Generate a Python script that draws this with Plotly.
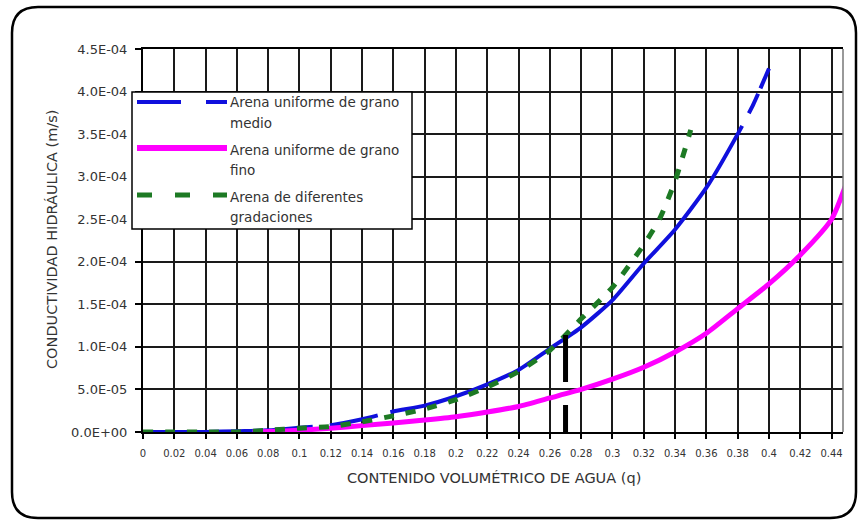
import plotly.graph_objects as go

# ---------------- data ----------------
theta_medio = [0, 0.02, 0.04, 0.06, 0.08, 0.10, 0.12, 0.14, 0.16, 0.18, 0.20,
               0.22, 0.24, 0.26, 0.28, 0.30, 0.32, 0.34, 0.36, 0.38, 0.39, 0.40]
k_medio = [0, 0, 0, 1e-6, 2e-6, 5e-6, 8e-6, 1.5e-5, 2.4e-5, 3.1e-5, 4.2e-5,
           5.6e-5, 7.3e-5, 9.8e-5, 1.23e-4, 1.55e-4, 1.98e-4, 2.38e-4, 2.87e-4,
           3.5e-4, 3.85e-4, 4.27e-4]

theta_fino = [0.07, 0.08, 0.10, 0.12, 0.14, 0.16, 0.18, 0.20, 0.22, 0.24, 0.26,
              0.28, 0.30, 0.32, 0.34, 0.36, 0.38, 0.40, 0.42, 0.44, 0.45]
k_fino = [0, 5e-7, 2e-6, 4.5e-6, 7.5e-6, 1.05e-5, 1.4e-5, 1.8e-5, 2.35e-5, 3.0e-5,
          4.0e-5, 5.0e-5, 6.2e-5, 7.6e-5, 9.4e-5, 1.16e-4, 1.45e-4, 1.74e-4,
          2.08e-4, 2.5e-4, 2.95e-4]

theta_grad = [0, 0.02, 0.04, 0.06, 0.08, 0.10, 0.12, 0.14, 0.16, 0.18, 0.20,
              0.22, 0.24, 0.26, 0.28, 0.30, 0.32, 0.33, 0.34, 0.35]
k_grad = [0, 0, 0, 0, 2e-6, 4.5e-6, 6.5e-6, 1.2e-5, 1.9e-5, 2.7e-5, 3.8e-5,
          5.3e-5, 7.1e-5, 9.6e-5, 1.33e-4, 1.7e-4, 2.2e-4, 2.5e-4, 2.95e-4, 3.55e-4]

ref_theta = [0.27, 0.27]
ref_k = [1.14e-4, 0]

series_names = [
    ["Arena uniforme de grano", "medio"],
    ["Arena uniforme de grano", "fino"],
    ["Arena de diferentes", "gradaciones"],
]

x_tick_vals = [0, 0.02, 0.04, 0.06, 0.08, 0.10, 0.12, 0.14, 0.16, 0.18, 0.20, 0.22,
               0.24, 0.26, 0.28, 0.30, 0.32, 0.34, 0.36, 0.38, 0.40, 0.42, 0.44]
x_tick_text = ["0", "0.02", "0.04", "0.06", "0.08", "0.1", "0.12", "0.14", "0.16",
               "0.18", "0.2", "0.22", "0.24", "0.26", "0.28", "0.3", "0.32", "0.34",
               "0.36", "0.38", "0.4", "0.42", "0.44"]
y_tick_vals = [0, 5e-5, 1e-4, 1.5e-4, 2e-4, 2.5e-4, 3e-4, 3.5e-4, 4e-4, 4.5e-4]
y_tick_text = ["0.0E+00", "5.0E-05", "1.0E-04", "1.5E-04", "2.0E-04", "2.5E-04",
               "3.0E-04", "3.5E-04", "4.0E-04", "4.5E-04"]

x_title = "CONTENIDO VOLUMÉTRICO DE AGUA (q)"
y_title = "CONDUCTIVIDAD HIDRÁULICA (m/s)"

# ---------------- styling ----------------
W, H = 863, 524
ML, MR, MT, MB = 143, 20, 49, 92
PW, PH = W - ML - MR, H - MT - MB
FONT = "DejaVu Sans"
TXT = "#333333"
BLUE, MAG, GREEN = "#1010dd", "#ff00ff", "#1d7a24"


def px(xp):
    return (xp - ML) / PW


def py(yp):
    return (H - MB - yp) / PH


fig = go.Figure()
fig.add_trace(go.Scatter(x=theta_medio, y=k_medio, mode="lines",
                         line=dict(color=BLUE, width=4, shape="spline", smoothing=0.6,
                                   dash="170px,17px,49px,13px,471px,14px,22px,6px,400px")))
fig.add_trace(go.Scatter(x=theta_fino, y=k_fino, mode="lines",
                         line=dict(color=MAG, width=5, shape="spline", smoothing=0.6)))
fig.add_trace(go.Scatter(x=theta_grad, y=k_grad, mode="lines",
                         line=dict(color=GREEN, width=5, dash="10px,12px",
                                   shape="spline", smoothing=0.6)))
fig.add_trace(go.Scatter(x=ref_theta, y=ref_k, mode="lines",
                         line=dict(color="black", width=5, dash="47px,23px")))

shapes = []
# outer rounded frame
L, R, T, B, r = 12, 856, 7, 518, 26


def P(a, b):
    return f"{px(a):.5f},{py(b):.5f}"


path = (f"M {P(L + r, T)} L {P(R - r, T)} Q {P(R, T)} {P(R, T + r)} "
        f"L {P(R, B - r)} Q {P(R, B)} {P(R - r, B)} L {P(L + r, B)} "
        f"Q {P(L, B)} {P(L, B - r)} L {P(L, T + r)} Q {P(L, T)} {P(L + r, T)} Z")
shapes.append(dict(type="path", xref="paper", yref="paper", path=path,
                   line=dict(color="black", width=2.5), layer="below"))
# right border of plot area
shapes.append(dict(type="line", xref="paper", yref="paper", x0=1, x1=1, y0=0, y1=1,
                   line=dict(color="#777777", width=1.5), layer="above"))
# custom legend box
shapes.append(dict(type="rect", xref="paper", yref="paper",
                   x0=px(132), x1=px(412), y0=py(229), y1=py(92),
                   fillcolor="white", line=dict(color="black", width=1.5), layer="above"))
leg_y = [102, 148, 195]
leg_styles = [(BLUE, 4, "44px,25px"), (MAG, 6, "solid"), (GREEN, 5, "15px,23px")]
for yy, (c, w, d) in zip(leg_y, leg_styles):
    shapes.append(dict(type="line", xref="paper", yref="paper",
                       x0=px(137), x1=px(227), y0=py(yy), y1=py(yy),
                       line=dict(color=c, width=w, dash=d), layer="above"))

annotations = []
line_y = [(102, 123), (150, 170), (197, 217)]
for names, (y1, y2) in zip(series_names, line_y):
    for t, yy in zip(names, (y1, y2)):
        annotations.append(dict(xref="paper", yref="paper", x=px(228), y=py(yy),
                                text=t, showarrow=False, xanchor="left", yanchor="middle",
                                font=dict(family=FONT, size=13.5, color=TXT)))
annotations.append(dict(xref="paper", yref="paper", x=px(494), y=py(478), text=x_title,
                        showarrow=False, xanchor="center", yanchor="middle",
                        font=dict(family=FONT, size=14.5, color=TXT)))
annotations.append(dict(xref="paper", yref="paper", x=px(52), y=py(240), text=y_title,
                        textangle=-90, showarrow=False, xanchor="center", yanchor="middle",
                        font=dict(family=FONT, size=14.5, color=TXT)))

fig.update_layout(
    width=W, height=H, margin=dict(l=ML, r=MR, t=MT, b=MB, pad=0),
    paper_bgcolor="white", plot_bgcolor="white", showlegend=False,
    font=dict(family=FONT, color=TXT),
    shapes=shapes, annotations=annotations,
    xaxis=dict(range=[0, 0.4473], tickvals=x_tick_vals, ticktext=x_tick_text,
               showgrid=True, gridcolor="#1a1a1a", gridwidth=2, zeroline=False,
               showline=True, linecolor="black", linewidth=2, mirror=True,
               ticks="outside", ticklen=5, tickwidth=2, tickcolor="black",
               ticklabelstandoff=6,
               tickfont=dict(family=FONT, size=10, color=TXT)),
    yaxis=dict(range=[0, 4.5e-4], tickvals=y_tick_vals, ticktext=y_tick_text,
               showgrid=True, gridcolor="#1a1a1a", gridwidth=2, zeroline=False,
               showline=True, linecolor="black", linewidth=2,
               ticks="outside", ticklen=6, tickwidth=2, tickcolor="black",
               ticklabelstandoff=5,
               tickfont=dict(family=FONT, size=13, color=TXT)),
)

fig.write_html("out.html")
